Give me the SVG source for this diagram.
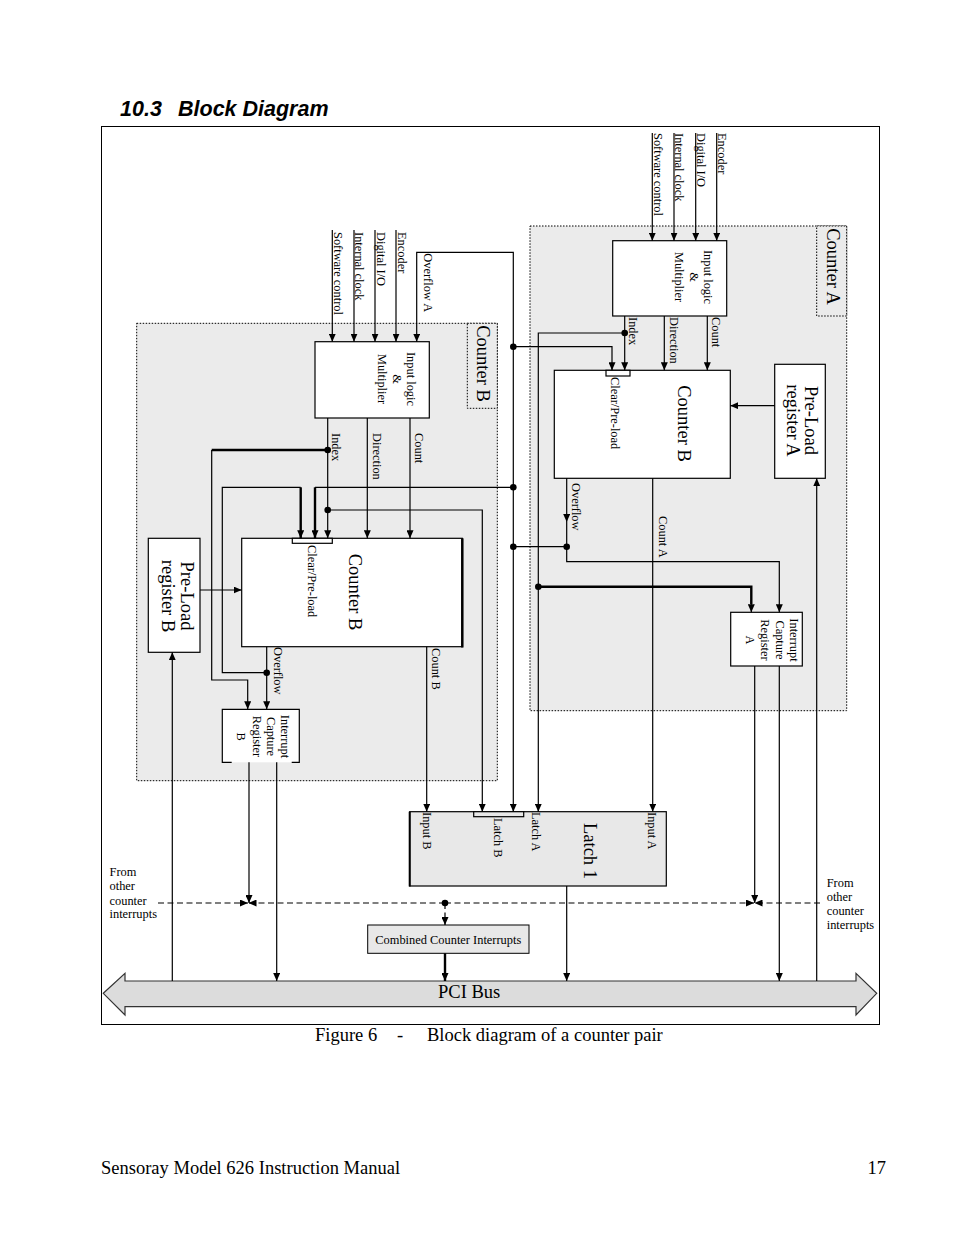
<svg xmlns="http://www.w3.org/2000/svg" width="954" height="1235" viewBox="0 0 954 1235">
<defs>
<marker id="ar" markerUnits="userSpaceOnUse" markerWidth="8" markerHeight="7" refX="8" refY="3.5" orient="auto"><path d="M0,0 L8,3.5 L0,7 z" fill="#000"/></marker>
<style>
.w{fill:none;stroke:#000;stroke-width:1.2}
.tk{fill:none;stroke:#000;stroke-width:2.4}
.a{marker-end:url(#ar)}
.ds{fill:none;stroke:#000;stroke-width:1.2;stroke-dasharray:6,3.5}
.reg{fill:#ebebeb;stroke:#000;stroke-width:1;stroke-dasharray:1.5,1.5}
.box{fill:#fff;stroke:#000;stroke-width:1.2}
.gbox{fill:#e8e8e8;stroke:#000;stroke-width:1.2}
.t{font-family:"Liberation Serif","Times New Roman",serif;font-size:12.4px;fill:#000}
.tm{font-family:"Liberation Serif","Times New Roman",serif;font-size:12.4px;fill:#000;text-anchor:middle}
.tb{font-family:"Liberation Serif","Times New Roman",serif;font-size:18.5px;fill:#000}
.tbm{font-family:"Liberation Serif","Times New Roman",serif;font-size:18.5px;fill:#000;text-anchor:middle}
.dot{fill:#000}
</style>
</defs>
<rect width="954" height="1235" fill="#fff"/>
<text x="120" y="116" font-family="Liberation Sans,Arial,sans-serif" font-size="21.5" font-weight="bold" font-style="italic">10.3</text>
<text x="178" y="116" font-family="Liberation Sans,Arial,sans-serif" font-size="21.5" font-weight="bold" font-style="italic">Block Diagram</text>
<rect x="101.5" y="126.5" width="778" height="898" fill="none" stroke="#000" stroke-width="1"/>

<g id="regionA">
<rect class="reg" x="530" y="226" width="316.7" height="484.7"/>
<rect class="reg" x="816.7" y="226" width="30" height="90"/>
<text class="tbm" transform="translate(827,266.5) rotate(90)">Counter A</text>
</g>
<g id="regionB">
<rect class="reg" x="136.7" y="323.3" width="360.6" height="457.4"/>
<rect class="reg" x="467.3" y="323.3" width="30" height="85"/>
<text class="tbm" transform="translate(477,363.5) rotate(90)">Counter B</text>
</g>

<g id="inputsA">
<text class="t" transform="translate(653.5,133) rotate(90)">Software control</text>
<text class="t" transform="translate(674.8,133) rotate(90)">Internal clock</text>
<text class="t" transform="translate(697,133) rotate(90)">Digital I/O</text>
<text class="t" transform="translate(717.5,133) rotate(90)">Encoder</text>
</g>
<g id="inputsB">
<text class="t" transform="translate(334,232) rotate(90)">Software control</text>
<text class="t" transform="translate(355.3,232) rotate(90)">Internal clock</text>
<text class="t" transform="translate(377,232) rotate(90)">Digital I/O</text>
<text class="t" transform="translate(397.5,232) rotate(90)">Encoder</text>
<text class="t" transform="translate(424,253.3) rotate(90)">Overflow A</text>
</g>

<g id="inputLogicA">
<rect class="box" x="612.7" y="240.7" width="114" height="75.3"/>
<text class="tm" transform="translate(704,277) rotate(90)">Input logic</text>
<text class="tm" transform="translate(689.5,277) rotate(90)">&amp;</text>
<text class="tm" transform="translate(675,277) rotate(90)">Multiplier</text>
</g>
<g id="inputLogicB">
<rect class="box" x="315" y="341.7" width="114.3" height="76.3" stroke-width="2"/>
<text class="tm" transform="translate(407,379) rotate(90)">Input logic</text>
<text class="tm" transform="translate(392.5,379) rotate(90)">&amp;</text>
<text class="tm" transform="translate(378,379) rotate(90)">Multiplier</text>
</g>

<g id="counterA">
<rect class="box" x="554.3" y="370.3" width="176" height="108"/>
<rect class="box" x="606" y="370.3" width="24" height="5.7"/>
<text class="t" transform="translate(611,377) rotate(90)">Clear/Pre-load</text>
<text class="tbm" transform="translate(677.5,423.5) rotate(90)">Counter B</text>
</g>
<g id="preloadA">
<rect class="box" x="774.7" y="364.3" width="50.6" height="114"/>
<text class="tbm" transform="translate(805,420.5) rotate(90)">Pre-Load</text>
<text class="tbm" transform="translate(787,420.5) rotate(90)">register A</text>
</g>
<g id="intCapA">
<rect class="box" x="730.7" y="612.3" width="71.6" height="53.7"/>
<text class="tm" transform="translate(789.5,640) rotate(90)">Interrupt</text>
<text class="tm" transform="translate(775.5,640) rotate(90)">Capture</text>
<text class="tm" transform="translate(761,640) rotate(90)">Register</text>
<text class="tm" transform="translate(745.5,640) rotate(90)">A</text>
</g>

<g id="counterB">
<rect class="box" x="241.7" y="538.3" width="220.6" height="108.4"/>
<path d="M462.3,538.3 V647.5" fill="none" stroke="#000" stroke-width="2.5"/>
<rect class="box" x="292.3" y="538.3" width="40" height="5"/>
<text class="t" transform="translate(307.5,545) rotate(90)">Clear/Pre-load</text>
<text class="tbm" transform="translate(349,592) rotate(90)">Counter B</text>
</g>
<g id="preloadB">
<rect class="box" x="148.3" y="538.3" width="51.7" height="114" stroke-width="1.5"/>
<text class="tbm" transform="translate(180.5,596) rotate(90)">Pre-Load</text>
<text class="tbm" transform="translate(162,596) rotate(90)">register B</text>
</g>
<g id="intCapB">
<rect x="222.3" y="709.3" width="77" height="53" fill="#fff"/>
<path d="M231.7,762.3 H222.3 V709.3 H299.3 V762.3 H291.7" fill="none" stroke="#000" stroke-width="1.2"/>
<text class="tm" transform="translate(281,736.5) rotate(90)">Interrupt</text>
<text class="tm" transform="translate(267,736.5) rotate(90)">Capture</text>
<text class="tm" transform="translate(252.5,736.5) rotate(90)">Register</text>
<text class="tm" transform="translate(236.5,736.5) rotate(90)">B</text>
</g>

<g id="latch">
<rect class="gbox" x="409.7" y="811.7" width="256.6" height="74.3"/>
<path d="M409.7,811.7 V886.5" fill="none" stroke="#000" stroke-width="2"/>
<rect class="gbox" x="473.7" y="811.7" width="50" height="5"/>
<text class="t" transform="translate(422.5,812) rotate(90)">Input B</text>
<text class="t" transform="translate(493.5,818) rotate(90)">Latch B</text>
<text class="t" transform="translate(532,812) rotate(90)">Latch A</text>
<text class="tb" transform="translate(583.5,823) rotate(90)">Latch 1</text>
<text class="t" transform="translate(648,812) rotate(90)">Input A</text>
</g>

<g id="combined">
<rect x="367.7" y="925" width="161.3" height="28.3" fill="#e8e8e8" stroke="#000" stroke-width="1"/>
<text class="tm" x="448.3" y="943.5">Combined Counter Interrupts</text>
</g>

<g id="pciBus">
<path d="M103.3,993.3 L125,973.3 V981 H856 V973.3 L876.7,993.3 L856,1015 V1006.7 H125 V1015 Z" fill="#dcdcdc" stroke="#333" stroke-width="1.2"/>
<text class="tb" x="438" y="997.5">PCI Bus</text>
</g>

<g id="labels">
<text class="t" transform="translate(629,317) rotate(90)">Index</text>
<text class="t" transform="translate(670,317) rotate(90)">Direction</text>
<text class="t" transform="translate(712,317) rotate(90)">Count</text>
<text class="t" transform="translate(332,433) rotate(90)">Index</text>
<text class="t" transform="translate(373,433) rotate(90)">Direction</text>
<text class="t" transform="translate(415,433) rotate(90)">Count</text>
<text class="t" transform="translate(572,483) rotate(90)">Overflow</text>
<text class="t" transform="translate(658.5,516) rotate(90)">Count A</text>
<text class="t" transform="translate(273.5,647) rotate(90)">Overflow</text>
<text class="t" transform="translate(432,648) rotate(90)">Count B</text>
<text class="t" x="109.5" y="876">From</text>
<text class="t" x="109.5" y="890">other</text>
<text class="t" x="109.5" y="904.5">counter</text>
<text class="t" x="109.5" y="918">interrupts</text>
<text class="t" x="826.7" y="886.5">From</text>
<text class="t" x="826.7" y="900.5">other</text>
<text class="t" x="826.7" y="914.5">counter</text>
<text class="t" x="826.7" y="928.5">interrupts</text>
</g>

<g id="connectors">
<path class="w a" d="M652.3,133 V240.7"/>
<path class="w a" d="M674,133 V240.7"/>
<path class="w a" d="M695.7,133 V240.7"/>
<path class="w a" d="M716.7,133 V240.7"/>
<path class="w a" d="M332.3,230 V341.7"/>
<path class="w a" d="M354,230 V341.7"/>
<path class="w a" d="M375,230 V341.7"/>
<path class="w a" d="M396,230 V341.7"/>
<path class="w a" d="M513.3,546.7 V252.3 H416.7 V341.7"/>
<path class="w a" d="M513.3,546.7 V811.7"/>
<path class="w a" d="M624.7,316 V370.3"/>
<path class="w a" d="M664.3,316 V370.3"/>
<path class="w a" d="M707.3,316 V370.3"/>
<path class="w a" d="M624.7,333 H538.3 V811.7"/>
<path class="tk" d="M538.3,586.7 H751.3 V604"/>
<path class="w a" d="M751.3,600 V612.3"/>
<path class="w a" d="M513.3,346.7 H612 V370.3"/>
<path class="w a" d="M774.7,405.7 H730.3"/>
<path class="w a" d="M816.7,981 V478.3"/>
<path class="w a" d="M566.7,478.3 V522"/>
<path class="w a" d="M566.7,522 V561.7 H779.3 V612.3"/>
<path class="w" d="M566.7,546.7 H513.3"/>
<path class="w a" d="M652.7,478.3 V811.7"/>
<path class="w a" d="M754.7,666 V903"/>
<path class="w a" d="M779.3,666 V981"/>
<path class="w a" d="M327.7,418 V538.3"/>
<path class="w a" d="M367.3,418 V538.3"/>
<path class="w a" d="M410,418 V538.3"/>
<path class="tk" d="M327.7,450 H211.7"/>
<path class="w a" d="M211.7,450 V680 H247.7 V709.3"/>
<path class="w a" d="M327.7,510 H482.3 V811.7"/>
<path class="w" d="M513.3,487.3 H315"/>
<path class="tk a" d="M315,487.3 V538.3"/>
<path class="w" d="M266.7,672.7 H222.3 V487.3 H300.7"/>
<path class="tk a" d="M300.7,487.3 V538.3"/>
<path class="w a" d="M200,590 H241.7"/>
<path class="w a" d="M172.3,981 V652.3"/>
<path class="w a" d="M266.7,646.7 V709.3"/>
<path class="w a" d="M426.7,646.7 V811.7"/>
<path class="w a" d="M249,762.3 V903"/>
<path class="w a" d="M276.7,762.3 V981"/>
<path class="w a" d="M566.7,886 V981"/>
<path class="tk a" d="M445,953.3 V981"/>
<path class="ds a" d="M445,903 V925"/>
<path class="ds a" d="M158,903 H248"/>
<path class="ds a" d="M445,903 H248.5"/>
<path class="ds a" d="M445,903 H754"/>
<path class="ds a" d="M820,903 H754.5"/>
<circle class="dot" cx="624.7" cy="333" r="3.3"/>
<circle class="dot" cx="513.3" cy="346.7" r="3.3"/>
<circle class="dot" cx="513.3" cy="487.3" r="3.3"/>
<circle class="dot" cx="513.3" cy="546.7" r="3.3"/>
<circle class="dot" cx="566.7" cy="546.7" r="3.3"/>
<circle class="dot" cx="538.3" cy="586.7" r="3.3"/>
<circle class="dot" cx="327.7" cy="450" r="3.3"/>
<circle class="dot" cx="327.7" cy="510" r="3.3"/>
<circle class="dot" cx="266.7" cy="672.7" r="3.3"/>
<circle class="dot" cx="445" cy="903" r="3.3"/>
</g>

<text x="315" y="1041" font-family="Liberation Serif,Times New Roman,serif" font-size="18.5">Figure 6</text>
<text x="397" y="1041" font-family="Liberation Serif,Times New Roman,serif" font-size="18.5">-</text>
<text x="427" y="1041" font-family="Liberation Serif,Times New Roman,serif" font-size="18.5">Block diagram of a counter pair</text>
<text x="101" y="1174" font-family="Liberation Serif,Times New Roman,serif" font-size="18.5">Sensoray Model 626 Instruction Manual</text>
<text x="886" y="1174" font-family="Liberation Serif,Times New Roman,serif" font-size="18.5" text-anchor="end">17</text>
</svg>
